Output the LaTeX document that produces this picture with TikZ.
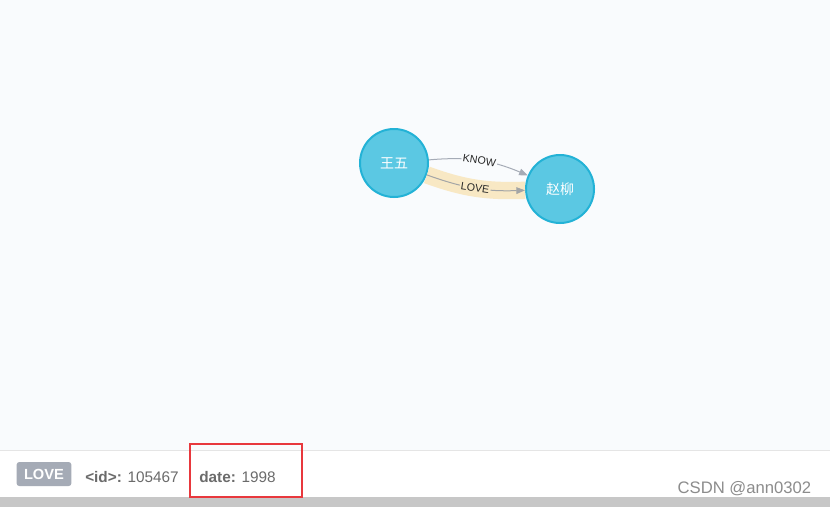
\documentclass[tikz,border=0pt]{standalone}
\usepackage{fontspec}
\setmainfont{Liberation Sans}
\newfontfamily\cjk{Noto Sans CJK SC}
\usetikzlibrary{positioning}
\usetikzlibrary{arrows.meta}
\definecolor{canvas}{HTML}{F9FBFD}
\definecolor{nodefill}{HTML}{5BC8E3}
\definecolor{nodeline}{HTML}{23B2D6}
\definecolor{relgrey}{HTML}{A5ABB6}
\definecolor{selband}{HTML}{F8E8C4}
\definecolor{infotext}{HTML}{6B6B6B}
\definecolor{markred}{HTML}{E8383D}
\tikzset{
  person/.style={shape=circle,fill=nodefill,draw=nodeline,line width=1.5pt,minimum size=51pt,inner sep=0,text=white,font=\cjk\fontsize{10.5}{12}\selectfont},
  rel/.style={draw=relgrey,line width=0.75pt,-{Triangle[length=6.5pt,width=5pt]}},
  rellabel/.style={sloped,inner sep=1pt,font=\fontsize{8}{9}\selectfont,text=black!85},
  badge/.style={fill=relgrey,rounded corners=2pt,text=white,font=\bfseries\fontsize{11}{12}\selectfont,minimum width=41pt,minimum height=18pt,inner sep=0},
  info/.style={anchor=west,text=infotext,font=\fontsize{11.5}{13}\selectfont,inner sep=0}
}
\begin{document}
\begin{tikzpicture}[x=0.75pt,y=-0.75pt]
      \useasboundingbox (0,0) rectangle (830,507);
      \fill[canvas] (0,0) rectangle (830,450);
      \fill[white] (0,450) rectangle (830,497);
      \fill[black!22] (0,497) rectangle (830,507);
      \draw[black!10,line width=0.75pt] (0,450) -- (830,450);
      % graph
      \node[person] (wang) at (394,163) {王五};
      \node[person] (zhao) at (560,189) {赵柳};
      \begin{scope}
        \draw[selband,line width=13pt] (wang) to[bend right=11] (zhao);
        \draw[rel] (wang) to[bend left=14] node[rellabel,fill=canvas] {KNOW} (zhao);
        \draw[rel,draw=relgrey!80!selband!90!black] (wang) to[bend right=11] node[rellabel,fill=selband] {LOVE} (zhao);
      \end{scope}
      % info bar
      \node[badge] (tag) at (44,474) {LOVE};
      \node[info] (idinfo) at (85,477) {\textbf{<id>:} 105467};
      \node[info] (dateinfo) at (199,477) {\textbf{date:} 1998};
      \draw[markred,line width=1.5pt] (190,444) rectangle (302,497);
      \node[anchor=east,text=black!45,font=\fontsize{12.5}{14}\selectfont] (mark) at (816,489) {CSDN @ann0302};
    \end{tikzpicture}
\end{document}
